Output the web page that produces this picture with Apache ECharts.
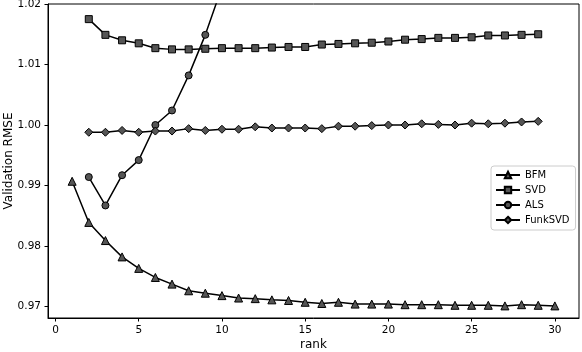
<!DOCTYPE html>
<html>
<head>
<meta charset="utf-8">
<script src="https://cdn.jsdelivr.net/npm/echarts@6/dist/echarts.min.js"></script>
<style>html,body{margin:0;padding:0;background:#fff}#c{width:582px;height:352px}</style>
</head>
<body>
<div id="c"></div>
<script>
const xTicks = [0, 5, 10, 15, 20, 25, 30];
const yTicks = [0.97, 0.98, 0.99, 1.00, 1.01, 1.02];
const bfmRank = [1,2,3,4,5,6,7,8,9,10,11,12,13,14,15,16,17,18,19,20,21,22,23,24,25,26,27,28,29,30];
const bfmVals = [0.9907,0.9839,0.9809,0.9782,0.9763,0.9748,0.9737,0.9726,0.9722,0.9718,0.9714,0.9713,0.9711,0.9710,0.9707,0.9705,0.9707,0.9704,0.9704,0.9704,0.9703,0.9703,0.9703,0.9702,0.9702,0.9702,0.9701,0.9703,0.9702,0.9701];
const svdRank = [2,3,4,5,6,7,8,9,10,11,12,13,14,15,16,17,18,19,20,21,22,23,24,25,26,27,28,29];
const svdVals = [1.0175,1.0149,1.0140,1.0135,1.0127,1.0125,1.0125,1.0126,1.0127,1.0127,1.0127,1.0128,1.0129,1.0129,1.0133,1.0134,1.0135,1.0136,1.0138,1.0141,1.0142,1.0144,1.0144,1.0145,1.0148,1.0148,1.0149,1.0150];
const alsRank = [2,3,4,5,6,7,8,9,10,11];
const alsVals = [0.9914,0.9867,0.9917,0.9942,1.0000,1.0024,1.0082,1.0149,1.0228,1.0300];
const funkRank = [2,3,4,5,6,7,8,9,10,11,12,13,14,15,16,17,18,19,20,21,22,23,24,25,26,27,28,29];
const funkVals = [0.9988,0.9988,0.9991,0.9988,0.9990,0.9990,0.9994,0.9991,0.9993,0.9993,0.9997,0.9995,0.9995,0.9995,0.9994,0.9998,0.9998,0.9999,1.0000,1.0000,1.0002,1.0001,1.0000,1.0003,1.0002,1.0003,1.0005,1.0006];

const font = 'DejaVu Sans';
function mk(name, rank, vals, symbol, size) {
  return {
    name: name, type: 'line', data: rank.map((r, i) => [r, vals[i]]),
    symbol: symbol, symbolSize: size, showSymbol: true, clip: true,
    lineStyle: { color: '#000', width: 1.5 },
    itemStyle: { color: '#555', borderColor: '#000', borderWidth: 1 },
    emphasis: { disabled: true }, animation: false, z: 3
  };
}
const chart = echarts.init(document.getElementById('c'), null, { renderer: 'canvas' });
chart.setOption({
  animation: false,
  grid: { left: 48, right: 3, top: 4, bottom: 34, show: true, borderColor: '#000', borderWidth: 1,
    containLabel: false, outerBoundsMode: 'none' },
  xAxis: {
    type: 'value', min: -0.45, max: 31.45,
    name: 'rank', nameLocation: 'middle', nameGap: 21, nameMoveOverlap: false,
    nameTextStyle: { fontFamily: font, fontSize: 12, color: '#000' },
    axisLine: { show: true, onZero: false, lineStyle: { color: '#000', width: 1 } },
    axisTick: { show: true, length: 3.5, lineStyle: { color: '#000' }, customValues: xTicks },
    axisLabel: { fontFamily: font, fontSize: 10.5, color: '#000', margin: 7, customValues: xTicks },
    splitLine: { show: false }
  },
  yAxis: {
    type: 'value', min: 0.9681, max: 1.02,
    name: 'Validation RMSE', nameLocation: 'middle', nameGap: 33, nameMoveOverlap: false,
    nameTextStyle: { fontFamily: font, fontSize: 12, color: '#000' },
    axisLine: { show: true, onZero: false, lineStyle: { color: '#000', width: 1 } },
    axisTick: { show: true, length: 3.5, lineStyle: { color: '#000' }, customValues: yTicks },
    axisLabel: { fontFamily: font, fontSize: 10.5, color: '#000', margin: 7, customValues: yTicks,
      formatter: v => v.toFixed(2) },
    splitLine: { show: false }
  },
  legend: {
    orient: 'vertical', left: 491, top: 166,
    data: ['BFM', 'SVD', 'ALS', 'FunkSVD'],
    itemWidth: 24, itemHeight: 8, itemGap: 5,
    padding: [4, 6, 5, 4],
    borderColor: '#ccc', borderWidth: 1, borderRadius: 3, backgroundColor: '#fff',
    textStyle: { fontFamily: font, fontSize: 10, color: '#000' }
  },
  series: [
    mk('BFM', bfmRank, bfmVals, 'triangle', 8),
    mk('SVD', svdRank, svdVals, 'rect', 7),
    mk('ALS', alsRank, alsVals, 'circle', 7),
    mk('FunkSVD', funkRank, funkVals, 'diamond', 8)
  ]
});
</script>
</body>
</html>
